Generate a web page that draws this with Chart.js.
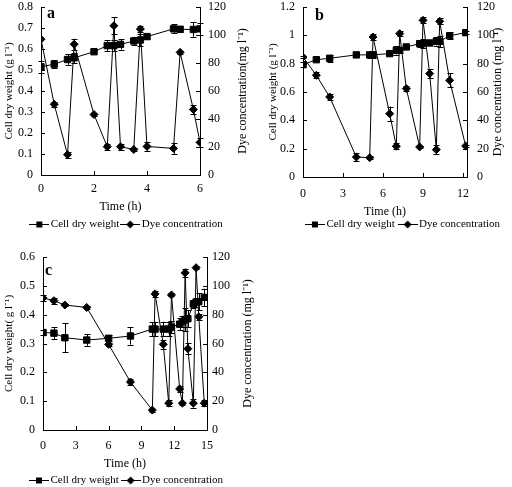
<!DOCTYPE html>
<html>
<head>
<meta charset="utf-8">
<script src="https://cdn.jsdelivr.net/npm/chart.js@4.4.1/dist/chart.umd.min.js"></script>
<style>
  body { margin: 0; background: #fff; width: 512px; height: 487px; position: relative; overflow: hidden; }
  canvas { position: absolute; }
</style>
</head>
<body>
<canvas id="ca" width="256" height="240" style="left:0;top:0"></canvas>
<canvas id="cb" width="256" height="240" style="left:256px;top:0"></canvas>
<canvas id="cc" width="256" height="247" style="left:0;top:240px"></canvas>
<script>
// panel a
const timeA = [0, 0.5, 1, 1.25, 2, 2.5, 2.75, 3, 3.5, 3.75, 4, 5, 5.25, 5.75, 6]
const cdwA = [0.515, 0.528, 0.55, 0.558, 0.587, 0.616, 0.616, 0.622, 0.638, 0.643, 0.659, 0.696, 0.694, 0.693, 0.696]
const cdwErrA = [0.03, 0.018, 0.025, 0.025, 0.008, 0.025, 0.025, 0.025, 0.02, 0.03, 0.01, 0.022, 0.015, 0.035, 0.03]
const dyeA = [97, 50.5, 14.5, 93.4, 43.2, 20.2, 106.6, 20.2, 18.2, 104.2, 20.4, 19, 87.6, 46.8, 23.3]
const dyeErrA = [0, 2, 2, 4, 1, 2, 6, 2, 1, 2, 3, 4, 1, 3, 3]

// panel b
const timeB = [0, 1, 2, 4, 5, 5.25, 6.5, 7, 7.25, 7.75, 8.75, 9, 9.5, 10, 10.25, 11, 12.2]
const cdwB = [0.793, 0.828, 0.838, 0.862, 0.862, 0.862, 0.871, 0.894, 0.894, 0.918, 0.941, 0.941, 0.946, 0.958, 0.958, 0.997, 1.019]
const cdwErrB = [0.02, 0.01, 0.025, 0.015, 0.02, 0.02, 0.01, 0.03, 0.02, 0.01, 0.025, 0.03, 0.01, 0.03, 0.04, 0.025, 0.01]
const dyeB = [84.7, 71.8, 56.5, 14.1, 13.6, 98.8, 44.7, 21.7, 101.2, 62.4, 21.2, 110.6, 73, 19.3, 109.9, 68.2, 21.9]
const dyeErrB = [1, 2, 2, 3, 1, 2, 5, 2, 2, 2, 1, 2, 3, 3, 2, 5, 1]

// panel c
const timeC = [0, 1, 2, 4, 6, 8, 10, 10.25, 11, 11.5, 11.75, 12.5, 12.75, 13, 13.25, 13.75, 14, 14.25, 14.75]
const cdwC = [0.338, 0.336, 0.32, 0.312, 0.318, 0.326, 0.35, 0.35, 0.35, 0.35, 0.357, 0.367, 0.376, 0.382, 0.386, 0.437, 0.443, 0.445, 0.46]
const cdwErrC = [0.01, 0.02, 0.05, 0.02, 0.01, 0.03, 0.025, 0.025, 0.025, 0.025, 0.02, 0.02, 0.02, 0.04, 0.03, 0.015, 0.015, 0.03, 0.03]
const dyeC = [91.6, 89.7, 86.7, 85, 59.4, 33.3, 13.8, 94.4, 59.4, 18.6, 93.7, 28.5, 18.6, 109, 56.4, 18.6, 112.6, 78.5, 18.6]
const dyeErrC = [2, 2, 1, 1, 1, 2, 1, 2, 3, 2, 1, 2, 1, 3, 4, 3, 1, 2, 2]

const seriesNames = ['Cell dry weight', 'Dye concentration']
const FONT = '"Liberation Serif", "Times New Roman", serif'

function legendIcon (style) {
  const c = document.createElement('canvas')
  c.width = 20
  c.height = 9
  const g = c.getContext('2d')
  g.strokeStyle = '#000'
  g.fillStyle = '#000'
  g.lineWidth = 1
  g.beginPath()
  g.moveTo(0, 4.5)
  g.lineTo(20, 4.5)
  g.stroke()
  g.beginPath()
  if (style === 'rect') {
    g.rect(7, 1.5, 6, 6)
  } else {
    g.moveTo(10, 0.5)
    g.lineTo(14, 4.5)
    g.lineTo(10, 8.5)
    g.lineTo(6, 4.5)
    g.closePath()
  }
  g.fill()
  return c
}

const extras = {
  id: 'extras',
  afterDatasetsDraw (chart, args, opts) {
    const ctx = chart.ctx
    const a = chart.chartArea
    ctx.save()
    ctx.strokeStyle = '#000'
    ctx.fillStyle = '#000'
    ctx.lineWidth = 1
    // error bars
    chart.data.datasets.forEach((ds, i) => {
      const meta = chart.getDatasetMeta(i)
      const ys = chart.scales[ds.yAxisID]
      ds.data.forEach((p, j) => {
        const e = ds.errors[j]
        if (!e) return
        const x = Math.round(meta.data[j].x) + 0.5
        const y1 = ys.getPixelForValue(p.y - e)
        const y2 = ys.getPixelForValue(p.y + e)
        ctx.beginPath()
        ctx.moveTo(x, y1)
        ctx.lineTo(x, y2)
        ctx.moveTo(x - 3, Math.round(y1) + 0.5)
        ctx.lineTo(x + 3, Math.round(y1) + 0.5)
        ctx.moveTo(x - 3, Math.round(y2) + 0.5)
        ctx.lineTo(x + 3, Math.round(y2) + 0.5)
        ctx.stroke()
      })
    })
    // inward tick marks
    ctx.beginPath()
    chart.scales.x.ticks.forEach(t => {
      const x = Math.round(chart.scales.x.getPixelForValue(t.value)) + 0.5
      ctx.moveTo(x, a.bottom)
      ctx.lineTo(x, a.bottom - 4)
    })
    chart.scales.y.ticks.forEach(t => {
      const y = Math.round(chart.scales.y.getPixelForValue(t.value)) + 0.5
      ctx.moveTo(a.left, y)
      ctx.lineTo(a.left + 4, y)
    })
    chart.scales.y1.ticks.forEach(t => {
      const y = Math.round(chart.scales.y1.getPixelForValue(t.value)) + 0.5
      ctx.moveTo(a.right, y)
      ctx.lineTo(a.right - 4, y)
    })
    ctx.stroke()
    // panel letter
    ctx.font = 'bold 16px ' + FONT
    ctx.textBaseline = 'alphabetic'
    ctx.fillText(opts.letter, opts.lx, opts.ly)
    // right axis title, reading bottom to top
    ctx.font = '12px ' + FONT
    ctx.textAlign = 'center'
    ctx.textBaseline = 'middle'
    ctx.translate(opts.rx, (a.top + a.bottom) / 2)
    ctx.rotate(-Math.PI / 2)
    ctx.fillText(opts.rtitle, 0, 0)
    ctx.restore()
  }
}

function makePanel (id, times, cdw, cdwErr, dye, dyeErr, p) {
  const pts = (vals) => times.map((t, i) => ({ x: t, y: vals[i] }))
  const fmt = (v) => String(+Number(v).toFixed(1))
  return new Chart(document.getElementById(id), {
    type: 'line',
    data: {
      datasets: [{
        label: seriesNames[0],
        data: pts(cdw),
        errors: cdwErr,
        yAxisID: 'y',
        borderColor: '#000',
        backgroundColor: '#000',
        borderWidth: 1,
        pointStyle: 'rect',
        pointRadius: 4.5,
        tension: 0
      }, {
        label: seriesNames[1],
        data: pts(dye),
        errors: dyeErr,
        yAxisID: 'y1',
        borderColor: '#000',
        backgroundColor: '#000',
        borderWidth: 1,
        pointStyle: 'rectRot',
        pointRadius: 4,
        tension: 0
      }]
    },
    options: {
      responsive: false,
      animation: false,
      layout: { padding: p.pad },
      plugins: {
        tooltip: { enabled: false },
        extras: p.extras,
        legend: {
          position: 'bottom',
          align: p.legendAlign,
          labels: {
            color: '#000',
            font: { family: FONT, size: 11 },
            usePointStyle: true,
            pointStyleWidth: 12,
            padding: p.legendPad,
            generateLabels: () => [
              { text: seriesNames[0] + p.legendGap, pointStyle: legendIcon('rect'), fillStyle: '#000', strokeStyle: '#000', lineWidth: 0, datasetIndex: 0 },
              { text: seriesNames[1], pointStyle: legendIcon('diamond'), fillStyle: '#000', strokeStyle: '#000', lineWidth: 0, datasetIndex: 1 }
            ]
          }
        }
      },
      scales: {
        x: {
          type: 'linear',
          min: 0,
          max: p.xMax,
          grid: { display: false, drawTicks: false },
          border: { display: true, color: '#000', width: 1 },
          ticks: { color: '#000', padding: p.xTickPad, font: { family: FONT, size: 12 } },
          title: { display: true, text: 'Time (h)', color: '#000', padding: { top: 0, bottom: p.xTitlePb }, font: { family: FONT, size: 12 } },
          afterBuildTicks: (s) => {
            const ticks = []
            for (let v = 0; v <= p.xMax + 1e-9; v += p.xStep) ticks.push({ value: v })
            s.ticks = ticks
          },
          afterFit: (s) => { s.height = p.xH; s.paddingLeft = 0; s.paddingRight = 0 }
        },
        y: {
          position: 'left',
          min: 0,
          max: p.yMax,
          grid: { display: false, drawTicks: false },
          border: { display: true, color: '#000', width: 1 },
          ticks: { stepSize: p.yStep, color: '#000', padding: 8, font: { family: FONT, size: 12 }, callback: fmt },
          title: { display: true, text: p.ltitle, color: '#000', padding: { top: p.ltPad, bottom: 0 }, font: { family: FONT, size: 11 } },
          afterFit: (s) => { s.width = p.yW; s.paddingTop = 0; s.paddingBottom = 0 }
        },
        y1: {
          position: 'right',
          min: 0,
          max: 120,
          grid: { display: false, drawTicks: false },
          border: { display: true, color: '#000', width: 1 },
          ticks: { stepSize: 20, color: '#000', padding: p.rPad, font: { family: FONT, size: 12 } },
          afterFit: (s) => { s.width = p.y1W; s.paddingTop = 0; s.paddingBottom = 0 }
        }
      }
    },
    plugins: [extras]
  })
}

makePanel('ca', timeA, cdwA, cdwErrA, dyeA, dyeErrA, {
  xMax: 6, xStep: 2, yMax: 0.8, yStep: 0.1,
  ltitle: 'Cell dry weight (g l\u207B\u00B9)', ltPad: 3,
  yW: 41, y1W: 56, rPad: 8, xH: 39, xTickPad: 7, xTitlePb: -0.5,
  legendPad: 5, legendGap: '', legendAlign: 'center',
  pad: { top: 7, bottom: 0, left: 0, right: 0 },
  extras: { letter: 'a', lx: 47, ly: 18, rx: 243, rtitle: 'Dye concentration(mg l\u207B\u00B9)' }
})

makePanel('cb', timeB, cdwB, cdwErrB, dyeB, dyeErrB, {
  xMax: 12.3, xStep: 3, yMax: 1.2, yStep: 0.2,
  ltitle: 'Cell dry weight (g l\u207B\u00B9)', ltPad: 11,
  yW: 47, y1W: 37, rPad: 10, xH: 38, xTickPad: 10, xTitlePb: -4,
  legendPad: 4, legendGap: ' ', legendAlign: 'end',
  pad: { top: 7, bottom: 0, left: 0, right: 8 },
  extras: { letter: 'b', lx: 59, ly: 20, rx: 242, rtitle: 'Dye concentration (mg l\u207B\u00B9)' }
})

makePanel('cc', timeC, cdwC, cdwErrC, dyeC, dyeErrC, {
  xMax: 15, xStep: 3, yMax: 0.6, yStep: 0.1,
  ltitle: 'Cell dry weight( g l\u207B\u00B9)', ltPad: 3,
  yW: 43, y1W: 49, rPad: 5, xH: 42, xTickPad: 9, xTitlePb: 1,
  legendPad: 3, legendGap: ' ', legendAlign: 'center',
  pad: { top: 17, bottom: -9, left: 0, right: 0 },
  extras: { letter: 'c', lx: 45, ly: 35, rx: 248, rtitle: 'Dye concentration (mg l\u207B\u00B9)' }
})
</script>
</body>
</html>
